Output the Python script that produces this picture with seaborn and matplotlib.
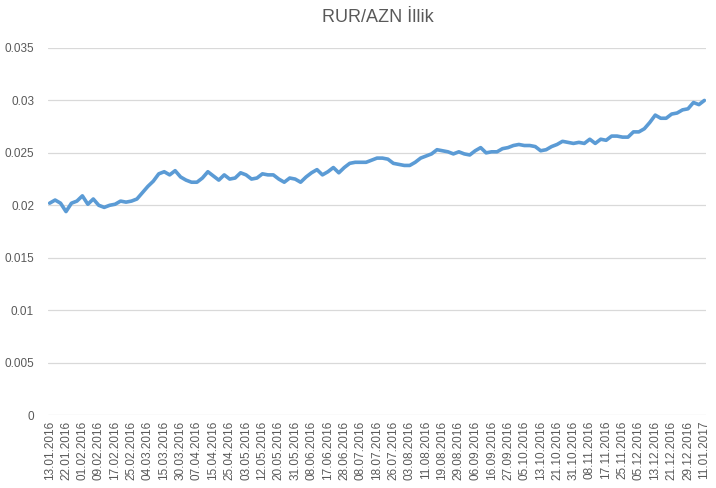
import numpy as np
import matplotlib.pyplot as plt
import seaborn as sns

# category labels shown on the axis (every 3rd point)
dates = ["13.01.2016", "22.01.2016", "01.02.2016", "09.02.2016", "17.02.2016",
         "25.02.2016", "04.03.2016", "15.03.2016", "30.03.2016", "07.04.2016",
         "15.04.2016", "25.04.2016", "03.05.2016", "12.05.2016", "20.05.2016",
         "31.05.2016", "08.06.2016", "17.06.2016", "28.06.2016", "08.07.2016",
         "18.07.2016", "26.07.2016", "03.08.2016", "11.08.2016", "19.08.2016",
         "29.08.2016", "06.09.2016", "16.09.2016", "27.09.2016", "05.10.2016",
         "13.10.2016", "21.10.2016", "31.10.2016", "08.11.2016", "17.11.2016",
         "25.11.2016", "05.12.2016", "13.12.2016", "21.12.2016", "29.12.2016",
         "11.01.2017"]

# RUR/AZN rate
rate = [0.0202, 0.0205, 0.0202, 0.0194, 0.0202, 0.0204, 0.0209, 0.0201, 0.0206, 0.0200,
        0.0198, 0.0200, 0.0201, 0.0204, 0.0203, 0.0204, 0.0206, 0.0212, 0.0218, 0.0223,
        0.0230, 0.0232, 0.0229, 0.0233, 0.0227, 0.0224, 0.0222, 0.0222, 0.0226, 0.0232,
        0.0228, 0.0224, 0.0229, 0.0225, 0.0226, 0.0231, 0.0229, 0.0225, 0.0226, 0.0230,
        0.0229, 0.0229, 0.0225, 0.0222, 0.0226, 0.0225, 0.0222, 0.0227, 0.0231, 0.0234,
        0.0229, 0.0232, 0.0236, 0.0231, 0.0236, 0.0240, 0.0241, 0.0241, 0.0241, 0.0243,
        0.0245, 0.0245, 0.0244, 0.0240, 0.0239, 0.0238, 0.0238, 0.0241, 0.0245, 0.0247,
        0.0249, 0.0253, 0.0252, 0.0251, 0.0249, 0.0251, 0.0249, 0.0248, 0.0252, 0.0255,
        0.0250, 0.0251, 0.0251, 0.0254, 0.0255, 0.0257, 0.0258, 0.0257, 0.0257, 0.0256,
        0.0252, 0.0253, 0.0256, 0.0258, 0.0261, 0.0260, 0.0259, 0.0260, 0.0259, 0.0263,
        0.0259, 0.0263, 0.0262, 0.0266, 0.0266, 0.0265, 0.0265, 0.0270, 0.0270, 0.0273,
        0.0279, 0.0286, 0.0283, 0.0283, 0.0287, 0.0288, 0.0291, 0.0292, 0.0298, 0.0296,
        0.0300]

sns.set_style("white")
plt.rcParams['font.family'] = ['Liberation Sans', 'DejaVu Sans']

fig = plt.figure(figsize=(7.16, 4.88), dpi=100)
ax = fig.add_axes([48 / 716, 1 - 415 / 488, 658 / 716, 367 / 488])

idx = np.arange(len(rate))
sns.lineplot(x=idx, y=rate, ax=ax, color='#5B9BD5', linewidth=2.6)

ax.set_ylim(0, 0.035)
ax.set_yticks(np.arange(0, 0.0351, 0.005))
ax.set_yticklabels(["0", "0.005", "0.01", "0.015", "0.02", "0.025", "0.03", "0.035"])
ax.set_xlim(-0.3, len(rate) - 0.7)
ax.set_xticks(idx[::3])
ax.set_xticklabels(dates, rotation=90)

ax.grid(axis='y', color='#D9D9D9', linewidth=0.9)
ax.set_axisbelow(True)
for s in ax.spines.values():
    s.set_visible(False)
ax.tick_params(axis='both', length=0, colors='#595959', labelsize=8.5)
ax.tick_params(axis='y', pad=10)
ax.tick_params(axis='x', pad=4)

fig.text(0.5 + 20 / 716, 1 - 18 / 488, "RUR/AZN İllik", ha='center', va='center',
         fontsize=13, color='#595959')

fig.savefig("out.png", dpi=100)
